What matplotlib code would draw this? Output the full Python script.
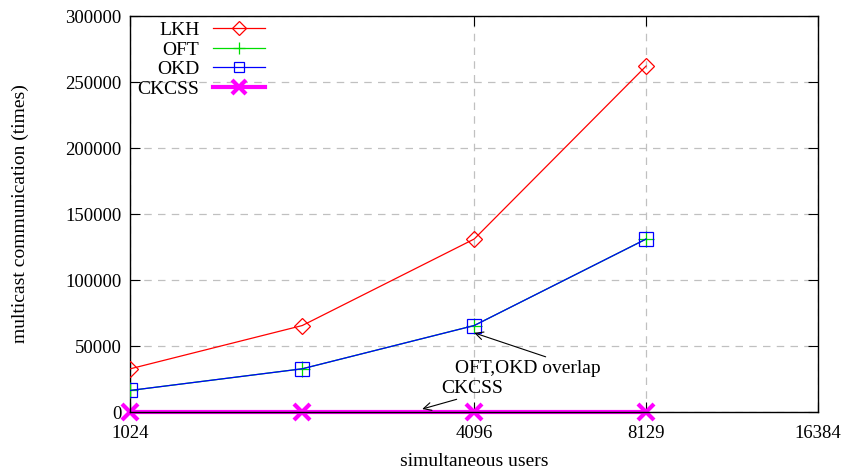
import numpy as np
import matplotlib
matplotlib.use("Agg")
import matplotlib.pyplot as plt

plt.rcParams['font.family'] = ['Liberation Serif', 'DejaVu Serif']
plt.rcParams['font.size'] = 14

users = [1024, 2048, 4096, 8192]
lkh = [32768, 65536, 131072, 262144]
oft = [16384, 32768, 65536, 131072]
okd = [16384, 32768, 65536, 131072]
ckcss = [0, 0, 0, 0]

xticks = [1024, 4096, 8192, 16384]
xticklabels = ["1024", "4096", "8129", "16384"]
yticks = [0, 50000, 100000, 150000, 200000, 250000, 300000]

fig = plt.figure(figsize=(8.46, 4.72), dpi=100)
ax = fig.add_axes([0.154, 0.127, 0.813, 0.839])

ax.plot(users, lkh, color='red', lw=0.9, marker='D', ms=8.5, mfc='none', mec='red', mew=0.9, label='LKH')
ax.plot(users, oft, color='#00dd00', lw=0.9, marker='+', ms=11, mew=0.9, label='OFT')
ax.plot(users, okd, color='blue', lw=0.9, marker='s', ms=9.5, mfc='none', mec='blue', mew=0.9, label='OKD')
ax.plot(users, ckcss, color='magenta', lw=3, marker='x', ms=12, mew=3, label='CKCSS', clip_on=False, zorder=1.5)

ax.set_xscale('log', base=2)
ax.set_xlim(1024, 16384)
ax.set_ylim(0, 300000)
ax.set_xticks(xticks)
ax.set_xticklabels(xticklabels)
ax.xaxis.set_minor_locator(matplotlib.ticker.NullLocator())
ax.set_yticks(yticks)
ax.tick_params(direction='in', top=True, right=True, length=7, labelsize=13.5)
ax.tick_params(axis='x', pad=9)
ax.tick_params(axis='y', pad=6.5)

ax.grid(True, color='#c0c0c0', linestyle=(0, (6, 5)), lw=0.9)
ax.set_axisbelow(True)
for s in ax.spines.values():
    s.set_zorder(1.6)
    s.set_linewidth(1.0)

ax.set_xlabel('simultaneous users', labelpad=8)
ax.set_ylabel('multicast communication (times)', labelpad=26)

ax.annotate('OFT,OKD overlap', xy=(4096, 60000), xytext=(3790, 33300),
            va='center', ha='left', fontsize=14,
            arrowprops=dict(arrowstyle='->', color='black', lw=0.8, shrinkA=0, shrinkB=0,
                            relpos=(0.68, 1.0)))
ax.annotate('CKCSS', xy=(3322, 2300), xytext=(3594, 18200),
            va='center', ha='left', fontsize=14,
            arrowprops=dict(arrowstyle='->', color='black', lw=0.8, shrinkA=0, shrinkB=0,
                            relpos=(0.4, 0.0)))

ax.legend(loc='upper right', markerfirst=False, frameon=False, fontsize=14,
          handlelength=2.7, handletextpad=0.67, labelspacing=0.1, markerscale=0.8,
          borderpad=0, borderaxespad=0,
          bbox_to_anchor=(265 / 846, 1 - 21.5 / 472), bbox_transform=fig.transFigure)

fig.savefig('out.png', dpi=100)
